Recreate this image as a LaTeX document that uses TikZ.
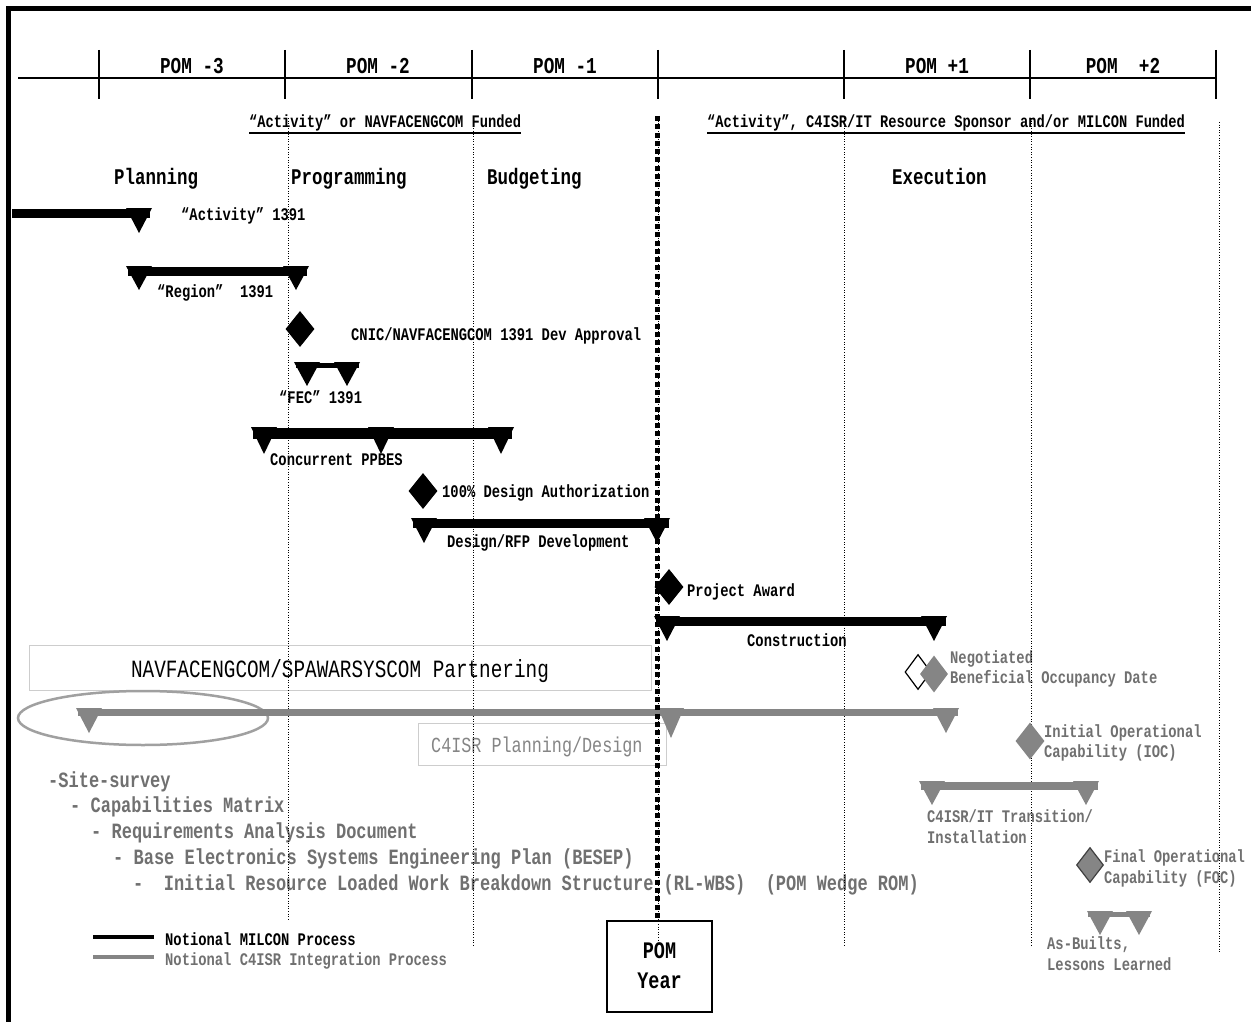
\documentclass[tikz,border=0pt]{standalone}
\usepackage{fontspec}
\setmainfont{Liberation Mono}[FakeStretch=0.78]
\usetikzlibrary{shapes.geometric}
\definecolor{barg}{RGB}{133,133,133}
\definecolor{txtg}{RGB}{112,112,112}
\definecolor{boxg}{RGB}{205,205,205}
\definecolor{ellg}{RGB}{160,160,160}
\newcommand\myfs[1]{\fontsize{#1}{#1}\selectfont}
\newcommand\ganttbar[5]{\fill[#5] (#1,#3) rectangle (#2,#3+#4);}
\newcommand\downtri[4]{\fill[#4] (#1-13,#2) -- (#1+13,#2) -- (#1,#3) -- cycle;}
\begin{document}
\begin{tikzpicture}[x=1pt,y=-1pt,
 lab/.style={inner sep=0pt, anchor=base west, font=\bfseries\myfs{17.7}},
 glab/.style={lab, text=txtg},
 hdr/.style={inner sep=0pt, anchor=base, font=\bfseries\myfs{22.7}},
 phase/.style={inner sep=0pt, anchor=base west, font=\bfseries\myfs{22.4}},
 lst/.style={inner sep=0pt, anchor=base west, text=txtg, font=\bfseries\myfs{21.8}},
 dia/.style={diamond, inner sep=0pt, minimum width=29, minimum height=36, fill=black},
 gdia/.style={dia, fill=barg},
 vdot/.style={line width=0.8, dash pattern=on 1pt off 1.6pt},
]
\useasboundingbox (0,0) rectangle (1251,1022);
\fill[white] (0,0) rectangle (1251,1022);

% frame
\draw[line width=5] (8,1022) -- (8,9) -- (1251,9);

% timeline
\draw[line width=1.5] (18,78) -- (1217,78);
\foreach \x in {99,285,472,658,844,1030,1216}
  \draw[line width=1.5] (\x,50) -- (\x,99);
\node[hdr] (h1) at (192,74) {POM -3};
\node[hdr] (h2) at (378,74) {POM -2};
\node[hdr] (h3) at (565,74) {POM -1};
\node[hdr] (h4) at (937,74) {POM +1};
\node[hdr] (h5) at (1123,74) {POM\ \ +2};

% funding
\node[lab, font=\bfseries\myfs{17.6}] (f1) at (249,128) {“Activity” or NAVFACENGCOM Funded};
\node[lab, font=\bfseries\myfs{17.6}] (f2) at (707,128) {“Activity”, C4ISR/IT Resource Sponsor and/or MILCON Funded};
\draw[line width=1.5] ([yshift=-5pt]f1.base west) -- ([yshift=-5pt]f1.base east);
\draw[line width=1.5] ([yshift=-5pt]f2.base west) -- ([yshift=-5pt]f2.base east);

% phases
\node[phase] (p1) at (114,185) {Planning};
\node[phase] (p2) at (291,185) {Programming};
\node[phase] (p3) at (487,185) {Budgeting};
\node[phase] (p4) at (892,185) {Execution};

% boxes
\node[draw=boxg, line width=1, minimum width=622, minimum height=45, inner sep=0pt] (pbox) at (340,667.5) {};
\node[inner sep=0pt, anchor=base, font=\myfs{24.8}] (ptxt) at (340,677) {NAVFACENGCOM/SPAWARSYSCOM Partnering};
\node[draw=boxg, line width=1, minimum width=248, minimum height=42, inner sep=0pt] (cbox) at (542,744) {};
\node[inner sep=0pt, anchor=base west, text=barg, font=\myfs{21.5}] (ctxt) at (431,752) {C4ISR Planning/Design};
\node[draw, line width=1.5, minimum width=105, minimum height=91, inner sep=0pt] (pombox) at (659.5,966.5) {};
\node[inner sep=0pt, anchor=base, font=\bfseries\myfs{23.7}] (pomt1) at (659.5,958) {POM};
\node[inner sep=0pt, anchor=base, font=\bfseries\myfs{23.7}] (pomt2) at (659.5,988) {Year};

% ellipse
\draw[ellg, line width=2.5] (143,718) ellipse [x radius=125, y radius=27];

% black labels
\node[lab] (l1) at (181,220) {“Activity” 1391};
\node[lab] (l2) at (157,297) {“Region”\ \ 1391};
\node[lab] (l3) at (351,340) {CNIC/NAVFACENGCOM 1391 Dev Approval};
\node[lab] (l4) at (279,403) {“FEC” 1391};
\node[lab] (l5) at (270,465) {Concurrent PPBES};
\node[lab] (l6) at (442,497) {100\% Design Authorization};
\node[lab] (l7) at (447,547) {Design/RFP Development};
\node[lab] (l8) at (687,596) {Project Award};
\node[lab] (l9) at (747,646) {Construction};

% gray labels
\node[glab] (g1a) at (950,663) {Negotiated};
\node[glab] (g1b) at (950,683) {Beneficial Occupancy Date};
\node[glab] (g2a) at (1044,737) {Initial Operational};
\node[glab] (g2b) at (1044,757) {Capability (IOC)};
\node[glab] (g3a) at (927,822) {C4ISR/IT Transition/};
\node[glab] (g3b) at (927,843) {Installation};
\node[glab] (g4a) at (1104,862) {Final Operational};
\node[glab] (g4b) at (1104,883) {Capability (FOC)};
\node[glab] (g5a) at (1047,949) {As-Builts,};
\node[glab] (g5b) at (1047,970) {Lessons Learned};

% list
\node[lst] (s1) at (48,787) {-Site-survey};
\node[lst] (s2) at (70,812) {- Capabilities Matrix};
\node[lst] (s3) at (91,838) {- Requirements Analysis Document};
\node[lst] (s4) at (113,864) {- Base Electronics Systems Engineering Plan (BESEP)};
\node[lst] (s5) at (133,890) {-\ \ Initial Resource Loaded Work Breakdown Structure (RL-WBS)\ \ (POM Wedge ROM)};

% legend
\draw[line width=4] (93,937) -- (154,937);
\draw[barg, line width=4] (93,957) -- (154,957);
\node[lab] (lg1) at (165,945) {Notional MILCON Process};
\node[glab] (lg2) at (165,965) {Notional C4ISR Integration Process};

% dotted verticals
\draw[vdot] (288,118) -- (288,921);
\draw[vdot] (473,118) -- (473,946);
\draw[vdot] (844,118) -- (844,946);
\draw[vdot] (1031,118) -- (1031,947);
\draw[vdot] (1219,122) -- (1219,952);
\draw[vdot] (658,118) -- (658,942);

% black bars
\ganttbar{12}{150}{209}{9}{black}
\downtri{139}{208}{233}{black}
\ganttbar{128}{307}{267}{9}{black}
\downtri{139}{266}{290}{black}
\downtri{296}{266}{290}{black}
\ganttbar{296}{359}{363}{5}{black}
\downtri{307}{362}{386}{black}
\downtri{347}{362}{386}{black}
\ganttbar{253}{512}{428}{11}{black}
\downtri{264}{427}{454}{black}
\downtri{381}{427}{454}{black}
\downtri{501}{427}{454}{black}
\ganttbar{413}{669}{519}{9}{black}
\downtri{424}{518}{543}{black}
\downtri{657}{518}{543}{black}
\ganttbar{656}{946}{617}{9}{black}
\downtri{667}{616}{641}{black}
\downtri{934}{616}{641}{black}

% gray bars
\ganttbar{78}{958}{709}{7}{barg}
\downtri{89}{708}{733}{barg}
\downtri{671}{708}{738}{barg}
\downtri{946}{708}{733}{barg}
\ganttbar{921}{1098}{782}{8}{barg}
\downtri{932}{781}{805}{barg}
\downtri{1086}{781}{805}{barg}
\ganttbar{1088}{1150}{912}{5}{barg}
\downtri{1100}{911}{935}{barg}
\downtri{1139}{911}{935}{barg}

% milestones
\node[dia] (m1) at (300,329) {};
\node[dia] (m2) at (423,491) {};
\node[dia] (m3) at (669,587) {};
\node[dia, fill=white, draw=black, line width=1.2, minimum width=26, minimum height=35] (m4o) at (918,672) {};
\node[gdia, minimum width=28, minimum height=37] (m4) at (934,674) {};
\node[gdia, minimum height=37] (m5) at (1030,741) {};
\node[gdia, draw=black!75, line width=1.2, minimum width=27, minimum height=35] (m6) at (1090,865) {};

% POM year line
\draw[line width=4.5, dash pattern=on 5pt off 3.3pt] (657.5,116) -- (657.5,921);
\end{tikzpicture}
\end{document}
